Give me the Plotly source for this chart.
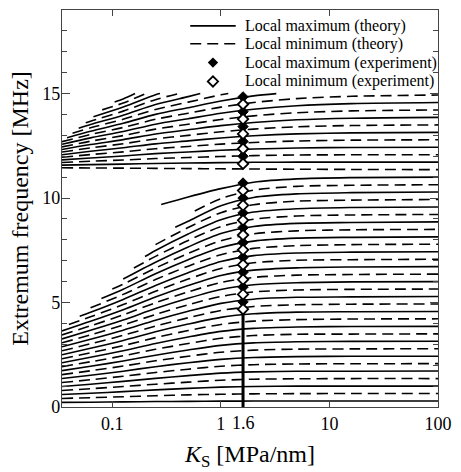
import math
import plotly.graph_objects as go

# Interface stiffness sample points [MPa/nm]
K_GRID = [0.0344, 0.063, 0.126, 0.25, 0.5, 1.0, 2.0, 5.0, 16.0, 100.0]

# Lower branch: curves ordered from the bottom; even rows = local maxima, odd rows = local minima
LOWER_F = [
    [0.22, 0.23, 0.245, 0.26, 0.27, 0.28, 0.285, 0.29, 0.29, 0.29],
    [0.41, 0.445, 0.49, 0.54, 0.58, 0.61, 0.63, 0.64, 0.645, 0.647],
    [0.60, 0.66, 0.735, 0.82, 0.89, 0.95, 0.98, 1.0, 1.0, 1.0],
    [0.79, 0.875, 0.98, 1.09, 1.19, 1.28, 1.33, 1.35, 1.36, 1.36],
    [0.98, 1.09, 1.225, 1.37, 1.50, 1.62, 1.68, 1.71, 1.71, 1.72],
    [1.17, 1.305, 1.47, 1.65, 1.81, 1.95, 2.025, 2.06, 2.07, 2.075],
    [1.36, 1.52, 1.715, 1.93, 2.12, 2.28, 2.37, 2.41, 2.43, 2.43],
    [1.55, 1.735, 1.96, 2.21, 2.43, 2.62, 2.72, 2.77, 2.78, 2.79],
    [1.74, 1.95, 2.205, 2.48, 2.73, 2.95, 3.07, 3.12, 3.14, 3.15],
    [1.93, 2.165, 2.45, 2.76, 3.04, 3.29, 3.42, 3.48, 3.49, 3.50],
    [2.12, 2.38, 2.695, 3.04, 3.35, 3.62, 3.765, 3.83, 3.85, 3.86],
    [2.31, 2.595, 2.94, 3.32, 3.66, 3.95, 4.11, 4.18, 4.21, 4.22],
    [2.50, 2.81, 3.185, 3.60, 3.97, 4.29, 4.46, 4.54, 4.56, 4.57],
    [2.69, 3.025, 3.43, 3.87, 4.27, 4.62, 4.81, 4.89, 4.92, 4.93],
    [2.88, 3.24, 3.675, 4.15, 4.58, 4.96, 5.16, 5.25, 5.27, 5.29],
    [3.07, 3.455, 3.92, 4.43, 4.89, 5.29, 5.505, 5.60, 5.63, 5.645],
    [3.26, 3.67, 4.165, 4.71, 5.20, 5.62, 5.85, 5.95, 5.99, 6.0],
    [3.45, 3.885, 4.41, 4.99, 5.51, 5.96, 6.20, 6.31, 6.34, 6.36],
    [3.64, 4.10, 4.655, 5.26, 5.81, 6.29, 6.55, 6.66, 6.70, 6.72],
    [None, 4.315, 4.90, 5.54, 6.12, 6.63, 6.90, 7.02, 7.05, 7.07],
    [None, 4.53, 5.145, 5.82, 6.43, 6.96, 7.245, 7.37, 7.41, 7.43],
    [None, 4.745, 5.39, 6.10, 6.74, 7.29, 7.59, 7.72, 7.77, 7.79],
    [None, None, 5.635, 6.38, 7.05, 7.63, 7.94, 8.08, 8.12, 8.14],
    [None, None, 5.88, 6.65, 7.35, 7.96, 8.29, 8.43, 8.48, 8.50],
    [None, None, 6.125, 6.93, 7.66, 8.30, 8.64, 8.79, 8.83, 8.86],
    [None, None, None, 7.21, 7.97, 8.63, 8.985, 9.14, 9.19, 9.215],
    [None, None, None, 7.49, 8.28, 8.96, 9.33, 9.49, 9.55, 9.57],
    [None, None, None, 7.77, 8.59, 9.30, 9.68, 9.85, 9.90, 9.93],
    [None, None, None, None, 8.89, 9.63, 10.03, 10.20, 10.26, 10.29],
    [None, None, None, None, None, 9.97, 10.38, 10.56, 10.61, 10.64],
    [None, None, None, None, 10.05, 10.45, 10.76, 10.92, 10.98, 11.0],
]
# Where a lower curve begins between grid points (None: begins on the grid)
LOWER_START_K = [None] * 19 + [0.0398, 0.0501, None, 0.0794, 0.1, None, 0.158, 0.2, None, 0.38, 0.575, 0.282]
LOWER_START_F = [None] * 19 + [3.95, 4.34, None, 5.19, 5.65, None, 6.65, 7.2, None, 8.6, 9.38, 9.69]

# Upper branch: first row is a local minimum, then alternating
UPPER_F = [
    [11.45, 11.44, 11.43, 11.42, 11.41, 11.40, 11.39, 11.38, 11.37, 11.36],
    [11.575, 11.60, 11.625, 11.655, 11.675, 11.695, 11.71, 11.72, 11.72, 11.72],
    [11.70, 11.76, 11.82, 11.89, 11.94, 11.99, 12.03, 12.06, 12.07, 12.07],
    [11.825, 11.92, 12.015, 12.125, 12.205, 12.285, 12.345, 12.395, 12.42, 12.43],
    [11.95, 12.08, 12.21, 12.36, 12.47, 12.58, 12.66, 12.73, 12.77, 12.79],
    [12.075, 12.24, 12.405, 12.595, 12.735, 12.875, 12.98, 13.07, 13.12, 13.145],
    [12.20, 12.40, 12.60, 12.83, 13.0, 13.17, 13.30, 13.41, 13.47, 13.50],
    [12.325, 12.56, 12.795, 13.065, 13.265, 13.465, 13.615, 13.745, 13.82, 13.86],
    [12.45, 12.72, 12.99, 13.30, 13.53, 13.76, 13.935, 14.085, 14.17, 14.215],
    [12.575, 12.88, 13.185, 13.535, 13.795, 14.055, 14.25, 14.42, 14.52, 14.57],
    [12.70, 13.04, 13.38, 13.77, 14.06, 14.35, 14.57, 14.76, 14.87, 14.93],
    [None, 13.20, 13.575, 14.005, 14.325, 14.645, 14.89, None, None, None],
    [None, 13.36, 13.77, 14.24, 14.59, 14.94, None, None, None, None],
    [None, 13.52, 13.965, 14.475, 14.855, None, None, None, None, None],
    [None, 13.68, 14.16, 14.71, None, None, None, None, None, None],
    [None, None, 14.355, 14.945, None, None, None, None, None, None],
    [None, None, 14.55, None, None, None, None, None, None, None],
    [None, None, 14.745, None, None, None, None, None, None, None],
]
UPPER_START_K = [None] * 11 + [0.0383, 0.043, 0.049, 0.0569, 0.067, 0.0807, 0.105]
UPPER_START_F = [None] * 11 + [12.89, 13.10, 13.34, 13.60, 13.89, 14.22, 14.60]
# Upper curves stop at the top of the computed band
F_LIMIT = 15.0
UPPER_END_K = [None] * 11 + [3.24, 1.17, 0.646, 0.407, 0.275, 0.204, 0.162]

# Measured extrema at K_S = 1.6 MPa/nm [MHz]
EXP_K = 1.6
EXP_MAX_F = [10.72, 10.0, 9.29, 8.58, 7.87, 7.16, 6.45, 5.74, 5.03,
             14.84, 14.13, 13.42, 12.71, 12.0]
EXP_MIN_F = [10.36, 9.65, 8.94, 8.23, 7.52, 6.81, 6.10, 5.39, 4.68,
             14.49, 13.78, 13.07, 12.36, 11.64]

FONT = "Liberation Serif"
LINE_W = 1.6
DASH = "11px,6px"
MARKER_SIZE = 8

fig = go.Figure()


def curve_points(row, start_k, start_f, end_k, end_f):
    xs, ys = [], []
    if start_k is not None:
        xs.append(start_k)
        ys.append(start_f)
    for k, f in zip(K_GRID, row):
        if f is not None:
            xs.append(k)
            ys.append(f)
    if end_k is not None:
        xs.append(end_k)
        ys.append(end_f)
    return xs, ys


for i, row in enumerate(LOWER_F):
    xs, ys = curve_points(row, LOWER_START_K[i], LOWER_START_F[i], None, None)
    is_max = i % 2 == 0
    fig.add_trace(go.Scatter(
        x=xs, y=ys, mode="lines", showlegend=False, hoverinfo="skip",
        line=dict(color="black", width=LINE_W, shape="spline", smoothing=0.8,
                  dash="solid" if is_max else DASH)))

for i, row in enumerate(UPPER_F):
    xs, ys = curve_points(row, UPPER_START_K[i], UPPER_START_F[i],
                          UPPER_END_K[i], F_LIMIT if UPPER_END_K[i] else None)
    is_max = i % 2 == 1
    fig.add_trace(go.Scatter(
        x=xs, y=ys, mode="lines", showlegend=False, hoverinfo="skip",
        line=dict(color="black", width=LINE_W, shape="spline", smoothing=0.8,
                  dash="solid" if is_max else DASH)))

# Vertical line at the measured stiffness, through each group of measured points
lower_pts = [f for f in EXP_MAX_F + EXP_MIN_F if f < 11.2]
upper_pts = [f for f in EXP_MAX_F + EXP_MIN_F if f > 11.2]
for y0, y1 in [(0.0, max(lower_pts)), (min(upper_pts), max(upper_pts))]:
    fig.add_trace(go.Scatter(x=[EXP_K, EXP_K], y=[y0, y1], mode="lines",
                             showlegend=False, hoverinfo="skip",
                             line=dict(color="black", width=3)))

fig.add_trace(go.Scatter(
    x=[EXP_K] * len(EXP_MAX_F), y=EXP_MAX_F, mode="markers", showlegend=False,
    hoverinfo="skip",
    marker=dict(symbol="diamond", size=MARKER_SIZE, color="black",
                line=dict(color="black", width=1))))
fig.add_trace(go.Scatter(
    x=[EXP_K] * len(EXP_MIN_F), y=EXP_MIN_F, mode="markers", showlegend=False,
    hoverinfo="skip",
    marker=dict(symbol="diamond", size=MARKER_SIZE, color="white",
                line=dict(color="black", width=1.8))))

# Key, drawn on a hidden unit axis laid over the plot area
LEGEND_LABELS = ["Local maximum (theory)", "Local minimum (theory)",
                 "Local maximum (experiment)", "Local minimum (experiment)"]
LEGEND_ROWS = [0.96, 0.915, 0.8675, 0.82]
SAMPLE_X = [0.341, 0.462]
fig.add_trace(go.Scatter(x=SAMPLE_X, y=[LEGEND_ROWS[0]] * 2, mode="lines",
                         xaxis="x2", yaxis="y2", showlegend=False, hoverinfo="skip",
                         line=dict(color="black", width=LINE_W)))
fig.add_trace(go.Scatter(x=SAMPLE_X, y=[LEGEND_ROWS[1]] * 2, mode="lines",
                         xaxis="x2", yaxis="y2", showlegend=False, hoverinfo="skip",
                         line=dict(color="black", width=LINE_W, dash=DASH)))
mid = sum(SAMPLE_X) / 2
fig.add_trace(go.Scatter(x=[mid], y=[LEGEND_ROWS[2]], mode="markers",
                         xaxis="x2", yaxis="y2", showlegend=False, hoverinfo="skip",
                         marker=dict(symbol="diamond", size=MARKER_SIZE, color="black")))
fig.add_trace(go.Scatter(x=[mid], y=[LEGEND_ROWS[3]], mode="markers",
                         xaxis="x2", yaxis="y2", showlegend=False, hoverinfo="skip",
                         marker=dict(symbol="diamond", size=MARKER_SIZE, color="white",
                                     line=dict(color="black", width=1.8))))
for label, yy in zip(LEGEND_LABELS, LEGEND_ROWS):
    fig.add_annotation(x=0.481, y=yy, xref="x2", yref="y2", text=label,
                       showarrow=False, xanchor="left", yanchor="middle",
                       font=dict(family=FONT, size=16, color="black"))

# Tick label for the measured stiffness
fig.add_annotation(x=math.log10(EXP_K), y=0, xref="x", yref="paper", text="1.6",
                   showarrow=False, xanchor="center", yanchor="top", yshift=-4,
                   font=dict(family=FONT, size=18, color="black"))

AX = "#444444"
fig.update_layout(
    width=461, height=472,
    margin=dict(l=62, r=18, t=9, b=63),
    paper_bgcolor="white", plot_bgcolor="white",
    font=dict(family=FONT, color="black"),
    xaxis=dict(type="log", range=[math.log10(0.0344), 2],
               tickvals=[0.1, 1, 10, 100], ticktext=["0.1", "1", "10", "100"],
               ticks="inside", ticklen=6, tickwidth=1.2, tickcolor=AX,
               showline=True, linecolor=AX, linewidth=1.3, mirror="ticks",
               showgrid=False, zeroline=False,
               tickfont=dict(family=FONT, size=18, color="black"),
               title=dict(text="<i>K</i><sub>S</sub> [MPa/nm]", standoff=12,
                          font=dict(family=FONT, size=24, color="black"))),
    yaxis=dict(range=[0, 19], tickvals=[0, 5, 10, 15],
               ticks="inside", ticklen=8, tickwidth=1.2, tickcolor=AX,
               minor=dict(dtick=1, ticks="inside", ticklen=5, tickwidth=1.2, tickcolor=AX),
               showline=True, linecolor=AX, linewidth=1.3, mirror="ticks",
               showgrid=False, zeroline=False, ticklabelstandoff=-3,
               tickfont=dict(family=FONT, size=18, color="black"),
               title=dict(text="Extremum frequency [MHz]", standoff=6,
                          font=dict(family=FONT, size=24, color="black"))),
    xaxis2=dict(range=[0, 1], overlaying="x", visible=False, fixedrange=True),
    yaxis2=dict(range=[0, 1], overlaying="y", visible=False, fixedrange=True),
)

fig.write_html("out.html")
